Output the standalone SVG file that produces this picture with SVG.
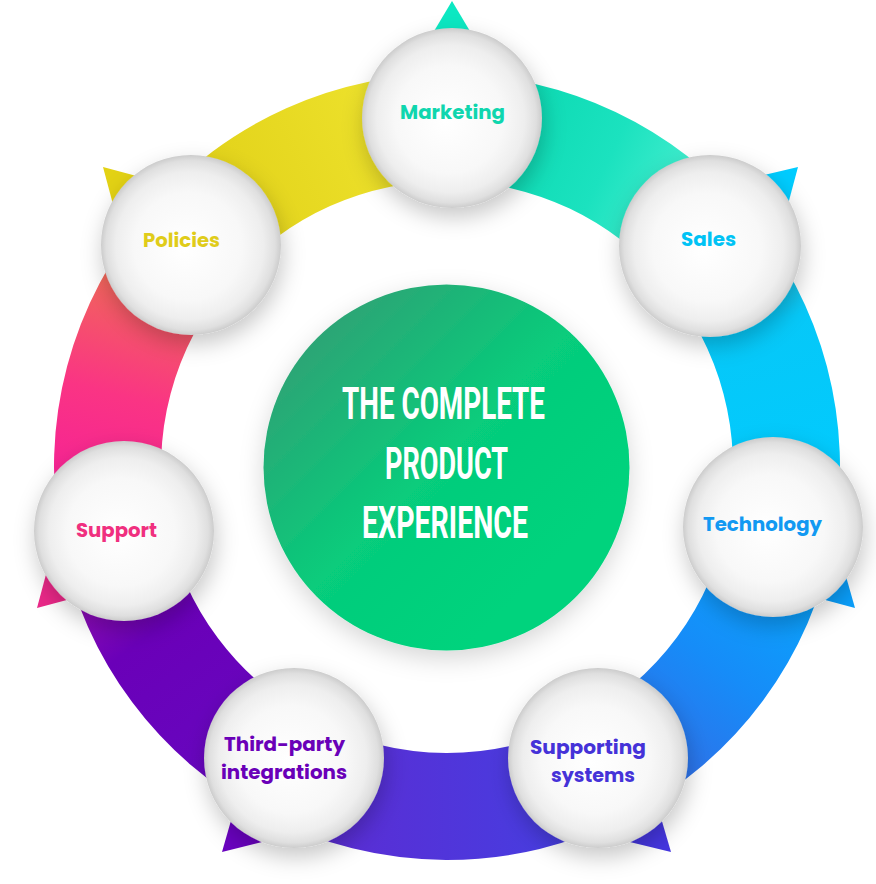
<svg xmlns="http://www.w3.org/2000/svg" width="876" height="884" viewBox="0 0 876 884">
<defs>
<linearGradient id="g1" gradientUnits="userSpaceOnUse" x1="451.9" y1="127.5" x2="706.9" y2="248.6"><stop offset="0" stop-color="#05d6ad"/><stop offset="0.55" stop-color="#1be2bf"/><stop offset="1" stop-color="#58f3d6"/></linearGradient>
<linearGradient id="g2" gradientUnits="userSpaceOnUse" x1="706.9" y1="248.6" x2="780.9" y2="528.5"><stop offset="0" stop-color="#2fb6cc"/><stop offset="0.3" stop-color="#06c8f8"/><stop offset="1" stop-color="#00cbff"/></linearGradient>
<linearGradient id="g3" gradientUnits="userSpaceOnUse" x1="780.9" y1="528.5" x2="603.4" y2="768.3"><stop offset="0" stop-color="#05aaff"/><stop offset="0.5" stop-color="#168cf8"/><stop offset="1" stop-color="#3668e4"/></linearGradient>
<linearGradient id="g4" gradientUnits="userSpaceOnUse" x1="603.4" y1="768.3" x2="289.0" y2="767.5"><stop offset="0" stop-color="#4340e2"/><stop offset="1" stop-color="#5e2ad2"/></linearGradient>
<linearGradient id="g5" gradientUnits="userSpaceOnUse" x1="289.0" y1="767.5" x2="114.0" y2="533.0"><stop offset="0" stop-color="#6608c0"/><stop offset="0.65" stop-color="#6a00b8"/><stop offset="1" stop-color="#a412b4"/></linearGradient>
<linearGradient id="g6" gradientUnits="userSpaceOnUse" x1="114.0" y1="533.0" x2="190.5" y2="244.6"><stop offset="0" stop-color="#f41c9a"/><stop offset="0.45" stop-color="#fa3484"/><stop offset="0.8" stop-color="#f2625e"/><stop offset="1" stop-color="#d98a35"/></linearGradient>
<linearGradient id="g7" gradientUnits="userSpaceOnUse" x1="190.5" y1="244.6" x2="451.9" y2="127.5"><stop offset="0" stop-color="#e0cf16"/><stop offset="0.75" stop-color="#ece02a"/><stop offset="1" stop-color="#c4d63c"/></linearGradient>
<linearGradient id="gc" x1="0.1" y1="0.15" x2="0.75" y2="0.8"><stop offset="0" stop-color="#2fa375"/><stop offset="0.55" stop-color="#07cc7b"/><stop offset="1" stop-color="#00d37d"/></linearGradient>
<radialGradient id="sph" cx="0.5" cy="0.5" r="0.5" fx="0.46" fy="0.52"><stop offset="0" stop-color="#ffffff"/><stop offset="0.6" stop-color="#f8f8f8"/><stop offset="0.82" stop-color="#eeeeee"/><stop offset="0.94" stop-color="#dfdfdf"/><stop offset="1" stop-color="#cccccc"/></radialGradient>
<filter id="sh" x="-40%" y="-40%" width="180%" height="190%"><feDropShadow dx="2" dy="9" stdDeviation="11" flood-color="#000" flood-opacity="0.22"/></filter>
<filter id="shc" x="-20%" y="-20%" width="140%" height="150%"><feDropShadow dx="0" dy="8" stdDeviation="12" flood-color="#000" flood-opacity="0.16"/></filter>
</defs>
<style>
.sphere{fill:url(#sph);filter:url(#sh)}
.lbl{font-family:Poppins,"Lato","Inter","Liberation Sans",sans-serif;font-weight:700;font-size:19px;text-anchor:middle}
.ctr{font-family:Roboto,"Liberation Sans",sans-serif;font-weight:700;font-size:45px;fill:#ffffff;text-anchor:middle}
</style>
<g id="connectors">
<polygon points="452,1 421,53 483,53" fill="#0ce8c2"/>
<polygon points="798,167 744.4,179.5 783.8,220.1" fill="#00ccff"/>
<polygon points="855,608 839.9,555.1 801.9,593.8" fill="#0a9ffc"/>
<polygon points="671,852 617.5,839.1 655.5,799.3" fill="#4536e0"/>
<polygon points="222,852 237.2,799.1 275.4,838.7" fill="#6a02c0"/>
<polygon points="37,608 51.2,554.9 90.1,593.8" fill="#ea2888"/>
<polygon points="103,167 156.1,181.2 117.2,220.1" fill="#e3d214"/>
<path d="M452.6,74.0 A393,393 0 0 1 747.9,214.2 L666.0,283.0 A286,286 0 0 0 451.1,181.0 Z" fill="url(#g1)"/>
<path d="M747.9,214.2 A393,393 0 0 1 833.5,538.1 L728.3,518.8 A286,286 0 0 0 666.0,283.0 Z" fill="url(#g2)"/>
<path d="M833.5,538.1 A393,393 0 0 1 628.0,815.8 L578.8,720.9 A286,286 0 0 0 728.3,518.8 Z" fill="url(#g3)"/>
<path d="M628.0,815.8 A393,393 0 0 1 264.1,814.8 L313.9,720.1 A286,286 0 0 0 578.8,720.9 Z" fill="url(#g4)"/>
<path d="M264.1,814.8 A393,393 0 0 1 61.5,543.4 L166.5,522.6 A286,286 0 0 0 313.9,720.1 Z" fill="url(#g5)"/>
<path d="M61.5,543.4 A393,393 0 0 1 150.0,209.6 L230.9,279.7 A286,286 0 0 0 166.5,522.6 Z" fill="url(#g6)"/>
<path d="M150.0,209.6 A393,393 0 0 1 452.6,74.0 L451.1,181.0 A286,286 0 0 0 230.9,279.7 Z" fill="url(#g7)"/>
</g>
<g id="center">
<circle cx="446.5" cy="467.5" r="183" fill="url(#gc)" filter="url(#shc)"/>
<text class="ctr" x="443.5" y="419" textLength="203" lengthAdjust="spacingAndGlyphs">THE COMPLETE</text>
<text class="ctr" x="446.5" y="479" textLength="123" lengthAdjust="spacingAndGlyphs">PRODUCT</text>
<text class="ctr" x="445" y="538" textLength="166" lengthAdjust="spacingAndGlyphs">EXPERIENCE</text>
</g>
<g id="marketing"><circle class="sphere" cx="452" cy="118" r="90"/><text class="lbl" x="452.5" y="119" fill="#0fd6ae" textLength="105" lengthAdjust="spacingAndGlyphs">Marketing</text></g>
<g id="sales"><circle class="sphere" cx="710" cy="246" r="91"/><text class="lbl" x="708.5" y="246" fill="#00c3f5" textLength="55" lengthAdjust="spacingAndGlyphs">Sales</text></g>
<g id="technology"><circle class="sphere" cx="773" cy="527" r="90"/><text class="lbl" x="762.5" y="531" fill="#1299f2" textLength="119" lengthAdjust="spacingAndGlyphs">Technology</text></g>
<g id="supporting-systems"><circle class="sphere" cx="598" cy="758" r="90"/><text class="lbl" x="588" y="754" fill="#4532d8" textLength="116" lengthAdjust="spacingAndGlyphs">Supporting</text><text class="lbl" x="593" y="782" fill="#4532d8" textLength="84" lengthAdjust="spacingAndGlyphs">systems</text></g>
<g id="third-party"><circle class="sphere" cx="294" cy="758" r="90"/><text class="lbl" x="284.5" y="751" fill="#6a00b8" textLength="121" lengthAdjust="spacingAndGlyphs">Third-party</text><text class="lbl" x="284" y="779" fill="#6a00b8" textLength="126" lengthAdjust="spacingAndGlyphs">integrations</text></g>
<g id="support"><circle class="sphere" cx="124" cy="531" r="90"/><text class="lbl" x="116.5" y="537" fill="#f0307f" textLength="81" lengthAdjust="spacingAndGlyphs">Support</text></g>
<g id="policies"><circle class="sphere" cx="191" cy="245" r="90"/><text class="lbl" x="181.5" y="247" fill="#e0cc1a" textLength="77" lengthAdjust="spacingAndGlyphs">Policies</text></g>
</svg>
